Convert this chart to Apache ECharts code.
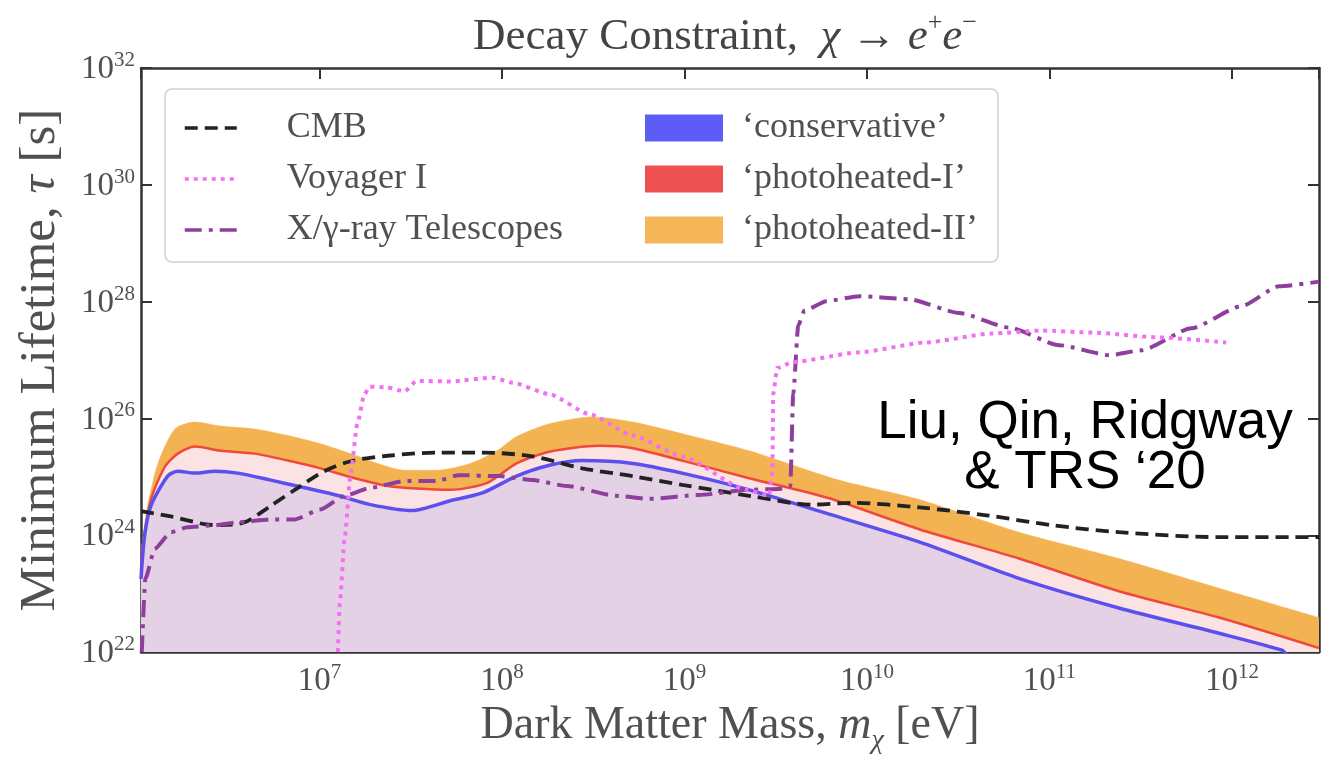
<!DOCTYPE html>
<html>
<head>
<meta charset="utf-8">
<title>Decay Constraint</title>
<script src="https://cdn.jsdelivr.net/npm/echarts@6/dist/echarts.min.js"></script>
<style>
  html, body { margin: 0; padding: 0; background: #ffffff; }
  #chart { width: 1339px; height: 760px; }
</style>
</head>
<body>
<div id="chart"></div>
<script>
// Dark matter mass m_chi [eV] and minimum lifetime tau [s] for each constraint curve.
const massCMB = [1.05e6, 1.53e6, 2.34e6, 2.87e6, 3.88e6, 5.4e6, 7.6e6, 1.06e7, 1.48e7, 2.36e7, 4.4e7, 7.8e7, 1.47e8, 2.75e8, 5.2e8, 9.7e8, 2.26e9, 5.0e9, 8.3e9, 1.93e10, 4.5e10, 1.03e11, 2.4e11, 8.5e11, 3.0e12];
const tauCMB  = [2.6e24, 2.1e24, 1.55e24, 1.49e24, 1.67e24, 3.2e24, 6.5e24, 1.25e25, 1.85e25, 2.3e25, 2.6e25, 2.6e25, 2.24e25, 1.4e25, 1.03e25, 7.3e24, 4.75e24, 3.35e24, 3.6e24, 3.0e24, 2.2e24, 1.49e24, 1.13e24, 9.3e23, 9.3e23];

const massVoyager = [1.26e7, 1.29e7, 1.37e7, 1.48e7, 1.61e7, 1.76e7, 1.88e7, 2.33e7, 2.92e7, 3.4e7, 5.2e7, 8.9e7, 1.14e8, 1.82e8, 3.0e8, 5.2e8, 9.7e8, 2.18e9, 2.9e9, 3.03e9, 3.06e9, 3.22e9, 3.9e9, 9.1e9, 2.1e10, 4.85e10, 9.1e10, 1.71e11, 4.0e11, 9.3e11];
const tauVoyager  = [1e22, 6.7e22, 8.6e23, 1.16e25, 8.1e25, 2.6e26, 3.5e26, 3.4e26, 2.9e26, 4.4e26, 4.3e26, 5.0e26, 4.1e26, 2.6e26, 1.19e26, 5.1e25, 2.24e25, 6.0e24, 4.75e24, 1.16e25, 2.6e26, 7.3e26, 9.2e26, 1.36e27, 2.0e27, 2.85e27, 3.2e27, 2.96e27, 2.44e27, 2.0e27];

const massTelescopes = [1.06e6, 1.11e6, 1.25e6, 1.53e6, 1.89e6, 2.66e6, 3.56e6, 5.4e6, 7.3e6, 1.01e7, 1.37e7, 1.9e7, 2.92e7, 4.4e7, 5.8e7, 9.7e7, 1.47e8, 2.25e8, 4.2e8, 6.4e8, 1.2e9, 2.26e9, 3.3e9, 3.8e9, 3.94e9, 4.2e9, 4.53e9, 5.98e9, 9.1e9, 1.7e10, 3.2e10, 6.0e10, 1.13e11, 2.12e11, 3.2e11, 6.0e11, 1.13e12, 1.81e12, 3.0e12];
const tauTelescopes  = [1e22, 1.83e23, 5.9e23, 1.13e24, 1.37e24, 1.49e24, 1.67e24, 1.87e24, 1.87e24, 2.76e24, 4.75e24, 6.5e24, 8.5e24, 8.5e24, 1.07e25, 1.03e25, 8.8e24, 7.0e24, 4.75e24, 4.2e24, 4.9e24, 6.0e24, 6.2e24, 7.0e24, 2.6e26, 3.9e27, 6.95e27, 1.02e28, 1.24e28, 1.1e28, 6.4e27, 3.6e27, 1.8e27, 1.21e27, 1.47e27, 3.5e27, 8.4e27, 1.83e28, 2.2e28];

const massConservative = [1.05e6, 1.10e6, 1.19e6, 1.47e6, 1.67e6, 2.07e6, 2.66e6, 3.56e6, 5.4e6, 8.3e6, 1.26e7, 1.9e7, 3.2e7, 5.2e7, 7.8e7, 1.2e8, 1.82e8, 2.75e8, 5.2e8, 9.7e8, 2.26e9, 6.2e9, 1.93e10, 6.8e10, 2.4e11, 8.5e11, 1.88e12, 2.0e12];
const tauConservative  = [1.8e23, 1.0e24, 3.2e24, 1.03e25, 1.25e25, 1.16e25, 1.25e25, 1.16e25, 8.8e24, 6.5e24, 4.8e24, 3.35e24, 2.65e24, 3.9e24, 5.3e24, 1.03e25, 1.58e25, 1.9e25, 1.7e25, 1.16e25, 6.0e24, 2.3e24, 7.7e23, 1.83e23, 5.7e22, 2.1e22, 1.08e22, 9e21];

const massPhotoI = [1.05e6, 1.07e6, 1.19e6, 1.42e6, 1.67e6, 2.07e6, 2.87e6, 4.4e6, 6.7e6, 1.01e7, 1.56e7, 2.36e7, 3.4e7, 5.2e7, 8.3e7, 1.2e8, 1.82e8, 3.4e8, 5.2e8, 9.7e8, 2.26e9, 6.2e9, 1.93e10, 6.8e10, 2.4e11, 8.5e11, 3.0e12];
const tauPhotoI  = [2.5e23, 6.0e23, 4.1e24, 1.5e25, 2.5e25, 3.3e25, 2.8e25, 2.5e25, 1.9e25, 1.4e25, 9.5e24, 7.0e24, 6.3e24, 6.0e24, 7.9e24, 1.7e25, 2.7e25, 3.4e25, 3.1e25, 1.9e25, 9.5e24, 4.3e24, 1.27e24, 4.0e23, 1.1e23, 3.9e22, 1.17e22];

const massPhotoII = [1.05e6, 1.10e6, 1.14e6, 1.30e6, 1.61e6, 2.07e6, 2.87e6, 4.4e6, 6.7e6, 1.01e7, 1.48e7, 2.08e7, 2.92e7, 4.4e7, 6.7e7, 9.4e7, 1.2e8, 1.82e8, 3.1e8, 5.2e8, 9.7e8, 2.26e9, 7.0e9, 1.93e10, 6.8e10, 2.4e11, 8.5e11, 3.0e12];
const tauPhotoII  = [5.0e23, 1.6e24, 3.2e24, 1.7e25, 6.6e25, 8.7e25, 7.4e25, 6.6e25, 5.1e25, 3.7e25, 2.5e25, 1.7e25, 1.3e25, 1.3e25, 1.7e25, 2.8e25, 4.9e25, 8.1e25, 1.06e26, 8.7e25, 5.5e25, 2.8e25, 8.8e24, 4.1e24, 1.13e24, 4.0e23, 1.24e23, 3.9e22];

// Axis ranges (eV and seconds)
const massRange = [1.05e6, 3.0e12];
const tauRange = [1e22, 1e32];

const pairs = (xs, ys) => xs.map((x, i) => [x, ys[i]]);

const SERIF = '"Liberation Serif", "DejaVu Serif", serif';
const TEXT_GRAY = '#505050';
const AXIS_COLOR = '#333333';

function powerLabel(v) {
  const e = Math.round(Math.log10(v));
  return '{b|10}{e|' + e + '}';
}
const powerRich = {
  b: { fontFamily: SERIF, fontSize: 33, color: TEXT_GRAY, lineHeight: 36, verticalAlign: 'bottom' },
  e: { fontFamily: SERIF, fontSize: 21, color: TEXT_GRAY, lineHeight: 20, verticalAlign: 'top' }
};

const frameLine = { lineStyle: { color: AXIS_COLOR, width: 2.5 } };
const innerTick = { inside: true, length: 11, lineStyle: { color: AXIS_COLOR, width: 2 } };

const chart = echarts.init(document.getElementById('chart'), null, { renderer: 'canvas' });

const option = {
  backgroundColor: '#ffffff',
  animation: false,
  title: {
    text: '{n|Decay Constraint,  }{i|χ}{n| → }{i|e}{s|+}{i|e}{s|−}',
    left: 720,
    textAlign: 'center',
    top: 5,
    textStyle: {
      fontWeight: 'normal',
      rich: {
        n: { fontFamily: SERIF, fontSize: 45, fontWeight: 'normal', color: '#444', lineHeight: 50, verticalAlign: 'bottom' },
        i: { fontFamily: SERIF, fontSize: 45, fontWeight: 'normal', fontStyle: 'italic', color: '#444', lineHeight: 50, verticalAlign: 'bottom' },
        s: { fontFamily: SERIF, fontSize: 26, fontWeight: 'normal', color: '#444', lineHeight: 32, verticalAlign: 'top' }
      }
    }
  },
  grid: { left: 141, right: 20, top: 68, bottom: 98, containLabel: false },
  legend: [
    {
      data: ['CMB', 'Voyager I', 'X/γ-ray Telescopes'],
      orient: 'vertical',
      left: 178,
      top: 104,
      itemWidth: 52,
      itemHeight: 26,
      itemGap: 13,
      selectedMode: false,
      itemStyle: { color: 'transparent', borderColor: 'transparent', borderWidth: 0 },
      lineStyle: { width: 3.5 },
      textStyle: { fontFamily: SERIF, fontSize: 36, color: TEXT_GRAY, lineHeight: 38, padding: [0, 0, 0, 45] }
    },
    {
      data: ['‘conservative’', '‘photoheated-I’', '‘photoheated-II’'],
      orient: 'vertical',
      left: 640,
      top: 104,
      icon: 'rect',
      itemWidth: 78,
      itemHeight: 27,
      itemGap: 13,
      selectedMode: false,
      textStyle: { fontFamily: SERIF, fontSize: 36, color: TEXT_GRAY, lineHeight: 38, padding: [0, 0, 0, 14] }
    }
  ],
  graphic: [
    {
      type: 'rect',
      z: 3,
      shape: { x: 165, y: 89, width: 833, height: 173, r: 7 },
      style: { fill: '#ffffff', stroke: '#d0d0d0', lineWidth: 1.5 }
    },
    {
      type: 'text',
      z: 5,
      x: 1085,
      y: 398,
      style: {
        text: 'Liu, Qin, Ridgway\n& TRS ‘20',
        fontFamily: '"Liberation Sans", Arial, sans-serif',
        fontSize: 53,
        lineHeight: 50,
        fill: '#000000',
        align: 'center',
        verticalAlign: 'top'
      }
    }
  ],
  xAxis: [
    {
      type: 'log',
      logBase: 10,
      min: massRange[0],
      max: massRange[1],
      position: 'bottom',
      axisLine: frameLine,
      axisTick: innerTick,
      minorTick: { show: false },
      splitLine: { show: false },
      axisLabel: { formatter: powerLabel, rich: powerRich, margin: 10, showMinLabel: false, showMaxLabel: false },
      name: '{t|Dark Matter Mass, }{m|m}{u|χ}{t| [eV]}',
      nameLocation: 'middle',
      nameGap: 48,
      nameTextStyle: {
        rich: {
          t: { fontFamily: SERIF, fontSize: 46, color: TEXT_GRAY, lineHeight: 52, verticalAlign: 'top' },
          m: { fontFamily: SERIF, fontSize: 46, fontStyle: 'italic', color: TEXT_GRAY, lineHeight: 52, verticalAlign: 'top' },
          u: { fontFamily: SERIF, fontSize: 28, fontStyle: 'italic', color: TEXT_GRAY, lineHeight: 36, verticalAlign: 'bottom' }
        }
      }
    },
    {
      type: 'log',
      logBase: 10,
      min: massRange[0],
      max: massRange[1],
      position: 'top',
      axisLine: frameLine,
      axisTick: innerTick,
      minorTick: { show: false },
      splitLine: { show: false },
      axisLabel: { show: false }
    }
  ],
  yAxis: [
    {
      type: 'log',
      logBase: 10,
      min: tauRange[0],
      max: tauRange[1],
      interval: 2,
      position: 'left',
      axisLine: frameLine,
      axisTick: innerTick,
      minorTick: { show: false },
      splitLine: { show: false },
      axisLabel: { formatter: powerLabel, rich: powerRich, margin: 6 },
      name: '{t|Minimum Lifetime, }{m|τ}{t| [s]}',
      nameLocation: 'middle',
      nameRotate: 90,
      nameGap: 74,
      nameTextStyle: {
        rich: {
          t: { fontFamily: SERIF, fontSize: 51, color: TEXT_GRAY, lineHeight: 52 },
          m: { fontFamily: SERIF, fontSize: 51, fontStyle: 'italic', color: TEXT_GRAY, lineHeight: 52 }
        }
      }
    },
    {
      type: 'log',
      logBase: 10,
      min: tauRange[0],
      max: tauRange[1],
      interval: 2,
      position: 'right',
      axisLine: frameLine,
      axisTick: innerTick,
      minorTick: { show: false },
      splitLine: { show: false },
      axisLabel: { show: false }
    }
  ],
  series: [
    {
      name: '‘photoheated-II’',
      type: 'line',
      data: pairs(massPhotoII, tauPhotoII),
      symbol: 'none',
      smooth: 0.25,
      clip: true,
      itemStyle: { color: '#f5b657' },
      lineStyle: { color: '#f4b352', width: 0.5 },
      areaStyle: { color: '#f4b352', opacity: 1, origin: tauRange[0] },
      z: 2
    },
    {
      name: '‘photoheated-I’',
      type: 'line',
      data: pairs(massPhotoI, tauPhotoI),
      symbol: 'none',
      smooth: 0.25,
      clip: true,
      itemStyle: { color: '#ee5151' },
      lineStyle: { color: '#f0483a', width: 2.5 },
      areaStyle: { color: '#fae3e2', opacity: 1, origin: tauRange[0] },
      z: 2
    },
    {
      name: '‘conservative’',
      type: 'line',
      data: pairs(massConservative, tauConservative),
      symbol: 'none',
      smooth: 0.25,
      clip: true,
      itemStyle: { color: '#5c5cf7' },
      lineStyle: { color: '#5b4ff0', width: 3.5 },
      areaStyle: { color: '#e5d1e5', opacity: 1, origin: tauRange[0] },
      z: 2
    },
    {
      name: 'CMB',
      type: 'line',
      data: pairs(massCMB, tauCMB),
      symbol: 'none',
      smooth: 0.3,
      clip: true,
      itemStyle: { color: '#222222' },
      lineStyle: { color: '#222222', width: 3.8, type: [13, 7] },
      z: 3
    },
    {
      name: 'X/γ-ray Telescopes',
      type: 'line',
      data: pairs(massTelescopes, tauTelescopes),
      symbol: 'none',
      smooth: 0.2,
      smoothMonotone: 'x',
      clip: true,
      itemStyle: { color: '#8e3f9e' },
      lineStyle: { color: '#8e3f9e', width: 4, type: [17, 7, 4, 7] },
      z: 3
    },
    {
      name: 'Voyager I',
      type: 'line',
      data: pairs(massVoyager, tauVoyager),
      symbol: 'none',
      smooth: 0.2,
      smoothMonotone: 'x',
      clip: true,
      itemStyle: { color: '#f36ff3' },
      lineStyle: { color: '#f36ff3', width: 4, type: [4, 5] },
      z: 3
    }
  ]
};

chart.setOption(option);
</script>
</body>
</html>
